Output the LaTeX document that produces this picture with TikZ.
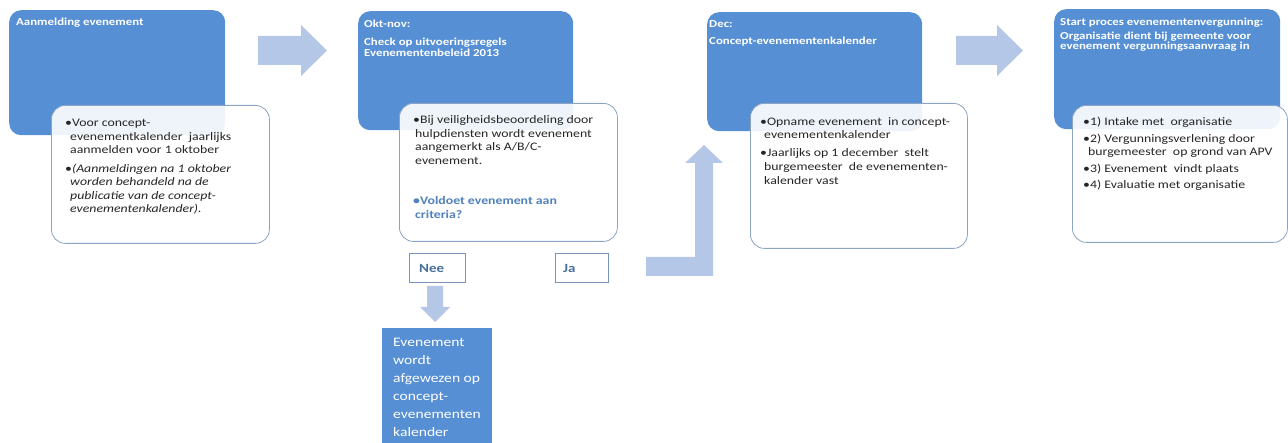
\documentclass[tikz,border=0pt]{standalone}
\usepackage{fontspec}
\setmainfont{Carlito}[FakeStretch=1.2]
\definecolor{boxblue}{RGB}{86,143,212}
\definecolor{arrowblue}{RGB}{180,199,231}
\definecolor{wborder}{RGB}{140,164,196}
\definecolor{qblue}{RGB}{79,129,189}
\definecolor{njtext}{RGB}{72,112,158}
\definecolor{njborder}{RGB}{120,148,184}
\begin{document}
\begin{tikzpicture}[x=1pt,y=-1pt,
  bluebox/.style={fill=boxblue, draw=none, rounded corners=12pt, anchor=north west, inner sep=0pt},
  whitebox/.style={fill=white, fill opacity=0.9, draw=wborder, line width=0.8pt, rounded corners=14pt, anchor=north west, inner sep=0pt},
  smallbox/.style={fill=white, draw=njborder, line width=0.8pt, anchor=north west, inner sep=0pt},
  rejbox/.style={fill=boxblue, draw=none, anchor=north west, inner sep=0pt},
  blockarrow/.style={fill=arrowblue, draw=none},
  ttl/.style={anchor=base west, inner sep=0pt, text=white, font=\bfseries\fontsize{10.7}{11}\selectfont},
  txt/.style={anchor=base west, inner sep=0pt, text=black!85, font=\fontsize{11.5}{13.5}\selectfont},
  qtxt/.style={anchor=base west, inner sep=0pt, text=qblue, font=\bfseries\fontsize{11.5}{13.5}\selectfont},
  njlabel/.style={anchor=base west, inner sep=0pt, text=njtext, font=\bfseries\fontsize{12.5}{14}\selectfont},
  rejtxt/.style={anchor=base west, inner sep=0pt, text=white, font=\fontsize{13}{17}\selectfont}]
\useasboundingbox (0,0) rectangle (1288,443);
\clip (0,0) rectangle (1288,443);

% blue boxes
\node[bluebox, minimum width=216pt, minimum height=125pt] (b1) at (9,10) {};
\node[bluebox, minimum width=215pt, minimum height=119pt] (b2) at (358,11) {};
\node[bluebox, minimum width=215pt, minimum height=119pt] (b3) at (707,12) {};
\node[bluebox, minimum width=226pt, minimum height=120pt] (b4) at (1054,9) {};

% titles
\node[ttl] (t1) at (16,26) {Aanmelding evenement};
\node[ttl] (t2a) at (364,28) {Okt-nov:};
\node[ttl] (t2b) at (364,46) {Check op uitvoeringsregels};
\node[ttl] (t2c) at (364,57) {Evenementenbeleid 2013};
\node[ttl] (t3a) at (709,28) {Dec:};
\node[ttl] (t3b) at (709,45) {Concept-evenementenkalender};
\node[ttl] (t4a) at (1060,25.5) {Start proces evenementenvergunning:};
\node[ttl] (t4b) at (1060,39.5) {Organisatie dient bij gemeente voor};
\node[ttl] (t4c) at (1060,49.5) {evenement vergunningsaanvraag in};

% white boxes
\node[whitebox, minimum width=218pt, minimum height=138pt] (w1) at (51,105) {};
\node[whitebox, minimum width=218pt, minimum height=138pt] (w2) at (399,103) {};
\node[whitebox, minimum width=217pt, minimum height=145pt] (w3) at (750,103) {};
\node[whitebox, minimum width=215pt, minimum height=137pt] (w4) at (1072,105) {};

% box 1 text
\node[txt] (l1a) at (65,127) {•Voor concept-};
\node[txt] (l1b) at (70,140.5) {evenementkalender\ \ jaarlijks};
\node[txt] (l1c) at (70,154) {aanmelden voor 1 oktober};
\node[txt] (l1d) at (65,172.5) {•\textit{(Aanmeldingen na 1 oktober}};
\node[txt] (l1e) at (70,186) {\textit{worden behandeld na de}};
\node[txt] (l1f) at (70,199.5) {\textit{publicatie van de concept-}};
\node[txt] (l1g) at (70,213) {\textit{evenementenkalender).}};

% box 2 text
\node[txt] (l2a) at (413,124) {•Bij veiligheidsbeoordeling door};
\node[txt] (l2b) at (415,137.5) {hulpdiensten wordt evenement};
\node[txt] (l2c) at (415,151) {aangemerkt als A/B/C-};
\node[txt] (l2d) at (415,165) {evenement.};
\node[qtxt] (l2e) at (413,205) {•Voldoet evenement aan};
\node[qtxt] (l2f) at (415,218.5) {criteria?};

% box 3 text
\node[txt] (l3a) at (760,126) {•Opname evenement\ \ in concept-};
\node[txt] (l3b) at (764,139) {evenementenkalender};
\node[txt] (l3c) at (760,157) {•Jaarlijks op 1 december\ \ stelt};
\node[txt] (l3d) at (764,171) {burgemeester\ \ de evenementen-};
\node[txt] (l3e) at (764,185) {kalender vast};

% box 4 text
\node[txt] (l4a) at (1083,125.5) {•1) Intake met\ \ organisatie};
\node[txt] (l4b) at (1083,142.5) {•2) Vergunningsverlening door};
\node[txt] (l4c) at (1088,156) {burgemeester\ \ op grond van APV};
\node[txt] (l4d) at (1083,173) {•3) Evenement\ \ vindt plaats};
\node[txt] (l4e) at (1083,188.5) {•4) Evaluatie met organisatie};

% Nee / Ja
\node[smallbox, minimum width=56pt, minimum height=29pt] (nee) at (409,253) {};
\node[njlabel] (neet) at (419,273) {Nee};
\node[smallbox, minimum width=53pt, minimum height=29pt] (ja) at (555,253) {};
\node[njlabel] (jat) at (563,273) {Ja};

% rejected box
\node[rejbox, minimum width=110pt, minimum height=120pt] (rej) at (382,328) {};
\node[rejtxt] (r1) at (393,347) {Evenement};
\node[rejtxt] (r2) at (393,365) {wordt};
\node[rejtxt] (r3) at (393,383) {afgewezen op};
\node[rejtxt] (r4) at (393,400.5) {concept-};
\node[rejtxt] (r5) at (393,418) {evenementen};
\node[rejtxt] (r6) at (393,436) {kalender};

% block arrows
\fill[blockarrow] (258,36) -- (301,36) -- (301,25) -- (327,50.5) -- (301,76) -- (301,65) -- (258,65) -- cycle;
\fill[blockarrow] (956,36) -- (997,36) -- (997,25) -- (1023,50.5) -- (997,76) -- (997,65) -- (956,65) -- cycle;
\fill[blockarrow] (427,286) -- (443,286) -- (443,307) -- (450,307) -- (435,322) -- (420,307) -- (427,307) -- cycle;
\fill[blockarrow] (646,257) -- (695,257) -- (695,163) -- (685,163) -- (704,145) -- (723,163) -- (713,163) -- (713,276) -- (646,276) -- cycle;
\end{tikzpicture}
\end{document}
